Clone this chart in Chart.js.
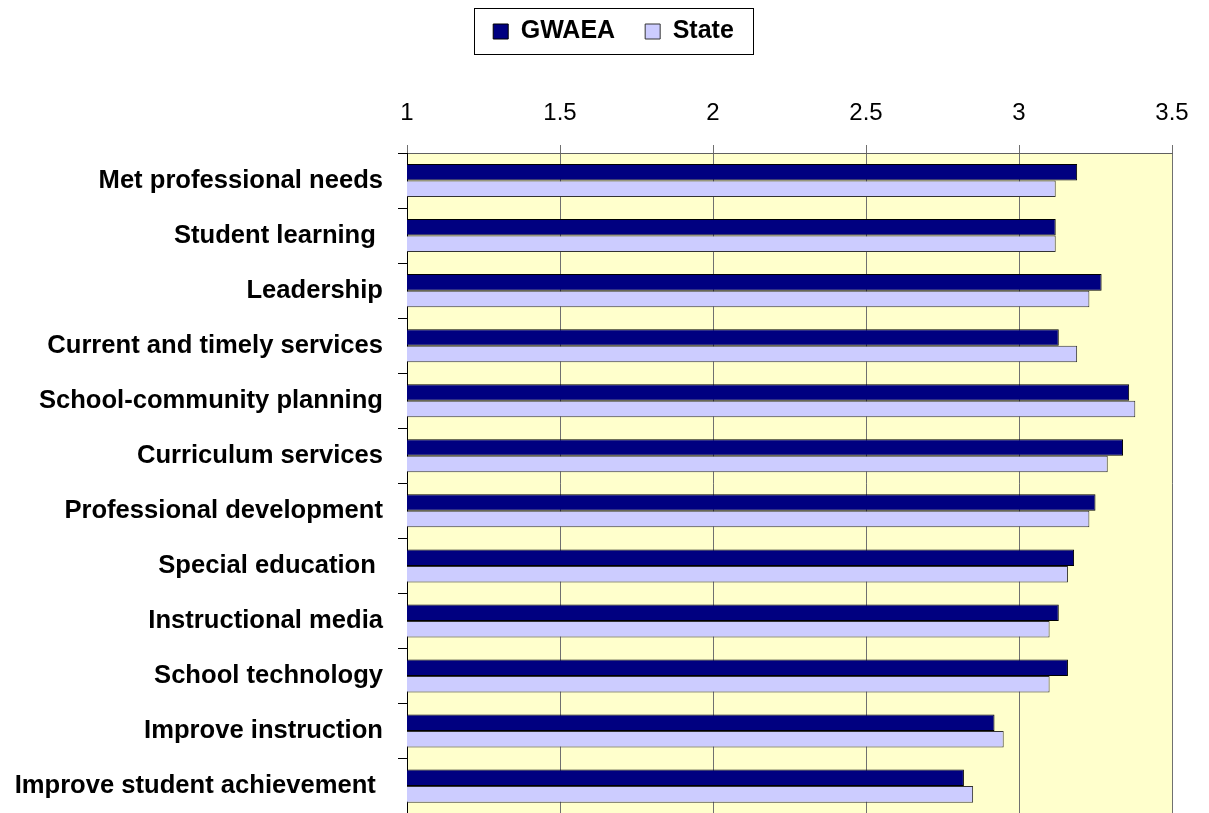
<!DOCTYPE html>
<html>
<head>
<meta charset="utf-8">
<script src="https://cdn.jsdelivr.net/npm/chart.js@4/dist/chart.umd.min.js"></script>
<style>
  html, body { margin: 0; padding: 0; background: #fff; overflow: hidden; }
  canvas { display: block; }
</style>
</head>
<body>
<canvas id="aea_chart" width="1209" height="844"></canvas>
<script>
var categories = [
  'Met professional needs',
  'Student learning ',
  'Leadership',
  'Current and timely services',
  'School-community planning',
  'Curriculum services',
  'Professional development',
  'Special education ',
  'Instructional media',
  'School technology',
  'Improve instruction',
  'Improve student achievement '
];
var gwaea = [3.19, 3.12, 3.27, 3.13, 3.36, 3.34, 3.25, 3.18, 3.13, 3.16, 2.92, 2.82];
var state = [3.12, 3.12, 3.23, 3.19, 3.38, 3.29, 3.23, 3.16, 3.10, 3.10, 2.95, 2.85];
var scaleTicks = [1, 1.5, 2, 2.5, 3, 3.5];

var FONT = '"Liberation Sans", Arial, sans-serif';
var PAD_LEFT = 13;
var LEGEND_SHIFT = 21;

// pale yellow plot area
var plotBackground = {
  id: 'plotBackground',
  beforeDraw: function (chart) {
    var a = chart.chartArea, ctx = chart.ctx;
    ctx.save();
    ctx.fillStyle = '#FFFFCC';
    ctx.fillRect(a.left, a.top, a.right - a.left, a.bottom - a.top);
    ctx.restore();
  }
};

// nudge the legend a little right, then frame its items
var legendFrame = {
  id: 'legendFrame',
  afterLayout: function (chart) {
    chart.legend.left += LEGEND_SHIFT;
    chart.legend.right += LEGEND_SHIFT;
  },
  afterDraw: function (chart) {
    var boxes = chart.legend.legendHitBoxes;
    if (!boxes || !boxes.length) return;
    var left = boxes[0].left, right = 0, top = boxes[0].top;
    boxes.forEach(function (b) {
      left = Math.min(left, b.left);
      right = Math.max(right, b.left + b.width);
    });
    var ctx = chart.ctx;
    ctx.save();
    ctx.strokeStyle = '#000';
    ctx.lineWidth = 1;
    ctx.strokeRect(Math.round(left - 19) + 0.5, Math.round(top - 11) + 0.5, Math.round(right - left + 38), 46);
    ctx.restore();
  }
};

new Chart(document.getElementById('aea_chart').getContext('2d'), {
  type: 'bar',
  data: {
    labels: categories,
    datasets: [{
      label: 'GWAEA',
      data: gwaea,
      backgroundColor: '#000080',
      borderColor: '#000000',
      borderWidth: 1,
      borderSkipped: false
    }, {
      label: 'State',
      data: state,
      backgroundColor: '#CCCCFF',
      borderColor: '#333333',
      borderWidth: 1,
      borderSkipped: false
    }]
  },
  options: {
    responsive: false,
    animation: false,
    indexAxis: 'y',
    categoryPercentage: 0.6,
    barPercentage: 1.0,
    layout: { padding: { left: PAD_LEFT, right: 37, top: -11, bottom: 0 } },
    plugins: {
      legend: {
        position: 'top',
        labels: {
          boxWidth: 15,
          boxHeight: 15,
          padding: 30,
          color: '#000',
          font: { family: FONT, size: 25, weight: 'bold' }
        }
      },
      tooltip: { enabled: false }
    },
    scales: {
      x: {
        position: 'top',
        min: 1,
        max: 3.5,
        afterBuildTicks: function (axis) {
          axis.ticks = scaleTicks.map(function (v) { return { value: v }; });
        },
        afterFit: function (axis) { axis.height = 99; },
        ticks: {
          color: '#000',
          padding: 17,
          maxRotation: 0,
          callback: function (v) { return String(v); },
          font: { family: FONT, size: 24 }
        },
        grid: { color: '#707070', lineWidth: 1, tickLength: 8, drawTicks: true },
        border: { color: '#606060', width: 1 }
      },
      y: {
        afterFit: function (axis) { axis.width = 407 - PAD_LEFT; },
        ticks: {
          color: '#000',
          padding: 15,
          autoSkip: false,
          font: { family: FONT, size: 25.6, weight: 'bold' }
        },
        grid: { drawOnChartArea: false, drawTicks: true, tickLength: 9, color: '#000' },
        border: { color: '#000', width: 1 }
      }
    }
  },
  plugins: [plotBackground, legendFrame]
});
</script>
</body>
</html>
